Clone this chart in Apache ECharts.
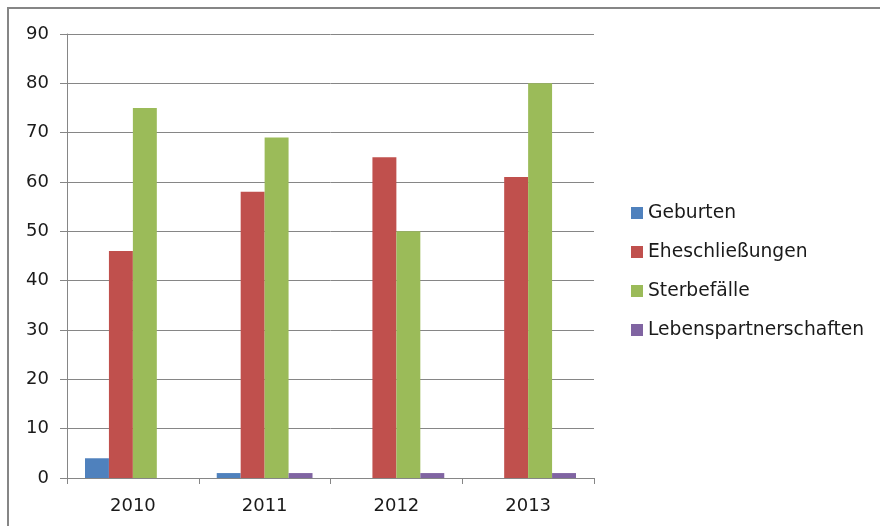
<!DOCTYPE html>
<html>
<head>
<meta charset="utf-8">
<script src="https://cdn.jsdelivr.net/npm/echarts@6/dist/echarts.min.js"></script>
<style>
html,body{margin:0;padding:0;background:#fff;}
#chart{width:880px;height:526px;}
</style>
</head>
<body>
<div id="chart"></div>
<script>
const years = ['2010', '2011', '2012', '2013'];
const geburten = [4, 1, 0, 0];
const eheschliessungen = [46, 58, 65, 61];
const sterbefaelle = [75, 69, 50, 80];
const lebenspartnerschaften = [0, 1, 1, 1];
const yTicks = [0, 10, 20, 30, 40, 50, 60, 70, 80, 90];

const font = '"DejaVu Sans", "Noto Sans", sans-serif';
const axisGray = '#868686';

function barSeries(name, data, color) {
  return {
    name: name,
    type: 'bar',
    data: data,
    barGap: '0%',
    barCategoryGap: '27.3%',
    itemStyle: { color: color },
    emphasis: { disabled: true }
  };
}

const chart = echarts.init(document.getElementById('chart'), null, { renderer: 'canvas' });
chart.setOption({
  animation: false,
  backgroundColor: '#fff',
  textStyle: { fontFamily: font },
  graphic: [{
    type: 'rect',
    shape: { x: 8, y: 8, width: 900, height: 560 },
    style: { fill: 'none', stroke: axisGray, lineWidth: 2 },
    z: -1
  }],
  grid: { left: 67, top: 34, width: 527, height: 444, containLabel: false },
  legend: {
    orient: 'vertical',
    left: 626,
    top: 198,
    itemWidth: 12,
    itemHeight: 12,
    itemGap: 19,
    icon: 'rect',
    textStyle: { fontFamily: font, fontSize: 18.7, lineHeight: 20, color: '#1a1a1a' },
    data: ['Geburten', 'Eheschließungen', 'Sterbefälle', 'Lebenspartnerschaften']
  },
  xAxis: {
    type: 'category',
    data: years,
    axisLine: { lineStyle: { color: axisGray, width: 1 } },
    axisTick: { show: true, length: 6, lineStyle: { color: axisGray } },
    axisLabel: { fontFamily: font, fontSize: 18, color: '#1a1a1a', margin: 19 }
  },
  yAxis: {
    type: 'value',
    min: yTicks[0],
    max: yTicks[yTicks.length - 1],
    interval: 10,
    axisLine: { show: true, lineStyle: { color: axisGray, width: 1 } },
    axisTick: { show: true, length: 7, lineStyle: { color: axisGray } },
    splitLine: { show: true, lineStyle: { color: axisGray, width: 1 } },
    axisLabel: { fontFamily: font, fontSize: 18, color: '#1a1a1a', margin: 18 }
  },
  series: [
    barSeries('Geburten', geburten, '#4F81BD'),
    barSeries('Eheschließungen', eheschliessungen, '#C0504D'),
    barSeries('Sterbefälle', sterbefaelle, '#9BBB59'),
    barSeries('Lebenspartnerschaften', lebenspartnerschaften, '#8064A2')
  ]
});
</script>
</body>
</html>
